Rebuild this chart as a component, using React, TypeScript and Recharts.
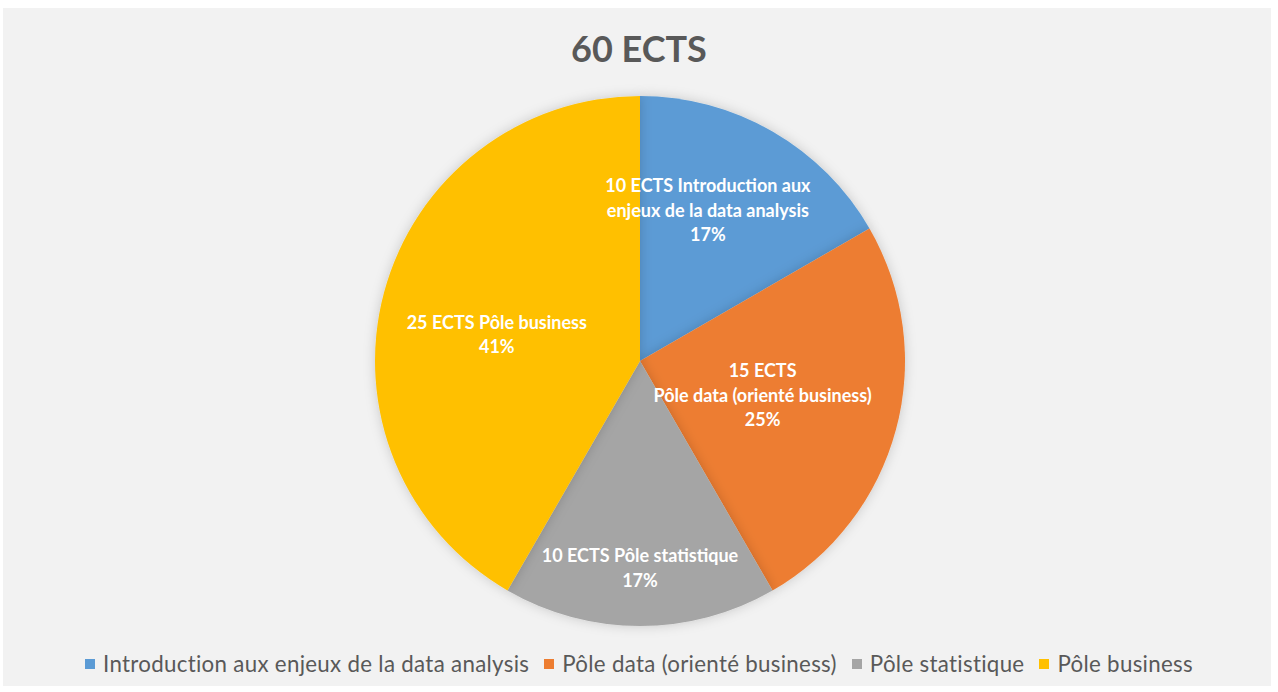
import React from 'react';
import { PieChart, Pie, Cell, Legend } from 'recharts';

const categories = [
  'Introduction aux enjeux de la data analysis',
  'Pôle data (orienté business)',
  'Pôle statistique',
  'Pôle business',
];
const ectsValues = [10, 15, 10, 25];
const percentLabels = ['17%', '25%', '17%', '41%'];
const labelLines = [
  ['10 ECTS Introduction aux', 'enjeux de la data analysis'],
  ['15 ECTS', 'Pôle data (orienté business)'],
  ['10 ECTS Pôle statistique'],
  ['25 ECTS Pôle business'],
];
const colors = ['#5B9BD5', '#ED7D31', '#A5A5A5', '#FFC000'];
// label placement: [fraction of outer radius, angle in degrees]
const labelPlacement: [number, number][] = [
  [0.625, 65.8],
  [0.48, -15.5],
  [0.78, -90],
  [0.55, 169.3],
];

const data = categories.map((name, i) => ({
  name,
  value: ectsValues[i],
  pct: percentLabels[i],
  lines: labelLines[i],
}));

const FONT = 'Lato, "Open Sans", sans-serif';

const renderLabel = (props: any) => {
  const { cx, cy, outerRadius, index } = props;
  const [f, ang] = labelPlacement[index];
  const rad = (Math.PI / 180) * ang;
  const x = cx + outerRadius * f * Math.cos(rad);
  const y = cy - outerRadius * f * Math.sin(rad);
  const lines = [...data[index].lines, data[index].pct];
  const lh = 24.5;
  const y0 = y - ((lines.length - 1) * lh) / 2;
  return (
    <text
      x={x}
      y={y0}
      fill="#ffffff"
      textAnchor="middle"
      dominantBaseline="central"
      fontFamily={FONT}
      fontWeight={700}
      fontSize={18}
    >
      {lines.map((l, k) => (
        <tspan key={k} x={x} y={y0 + k * lh}>
          {l}
        </tspan>
      ))}
    </text>
  );
};

const renderLegend = () => (
  <div
    style={{
      display: 'flex',
      justifyContent: 'center',
      alignItems: 'center',
      fontFamily: FONT,
      fontSize: 22.3,
      letterSpacing: 0.3,
      color: '#595959',
      gap: 15,
    }}
  >
    {data.map((d, i) => (
      <div key={d.name} style={{ display: 'flex', alignItems: 'center' }}>
        <span
          style={{
            display: 'inline-block',
            width: 10,
            height: 10,
            background: colors[i],
            marginRight: 8,
          }}
        />
        <span>{d.name}</span>
      </div>
    ))}
  </div>
);

export default function App() {
  return (
    <div
      style={{
        position: 'absolute',
        left: 0,
        top: 0,
        width: 1278,
        height: 692,
        background: '#ffffff',
        overflow: 'hidden',
      }}
    >
      <div
        style={{
          position: 'absolute',
          left: 3,
          top: 8,
          width: 1268,
          height: 678,
          background: '#f2f2f2',
        }}
      />
      <div
        style={{
          position: 'absolute',
          left: 0,
          top: 26,
          width: 1278,
          textAlign: 'center',
          fontFamily: FONT,
          fontWeight: 700,
          fontSize: 36,
          color: '#595959',
        }}
      >
        60 ECTS
      </div>
      <div style={{ position: 'absolute', left: 0, top: 0 }}>
        <PieChart width={1278} height={692} margin={{ top: 0, right: 0, bottom: 0, left: 0 }}>
          <defs>
            <filter id="pieShadow" x="-20%" y="-20%" width="140%" height="140%">
              <feDropShadow dx="0" dy="0" stdDeviation="6" floodColor="#000" floodOpacity="0.18" />
            </filter>
          </defs>
          <Pie
            data={data}
            dataKey="value"
            nameKey="name"
            cx={640}
            cy={361}
            outerRadius={265}
            startAngle={90}
            endAngle={-270}
            stroke="none"
            label={renderLabel}
            labelLine={false}
            isAnimationActive={false}
            style={{ filter: 'url(#pieShadow)' }}
          >
            {data.map((d, i) => (
              <Cell key={d.name} fill={colors[i]} />
            ))}
          </Pie>
          <Legend
            content={renderLegend}
            wrapperStyle={{ position: 'absolute', top: 650, left: 0, width: 1278 }}
          />
        </PieChart>
      </div>
    </div>
  );
}
